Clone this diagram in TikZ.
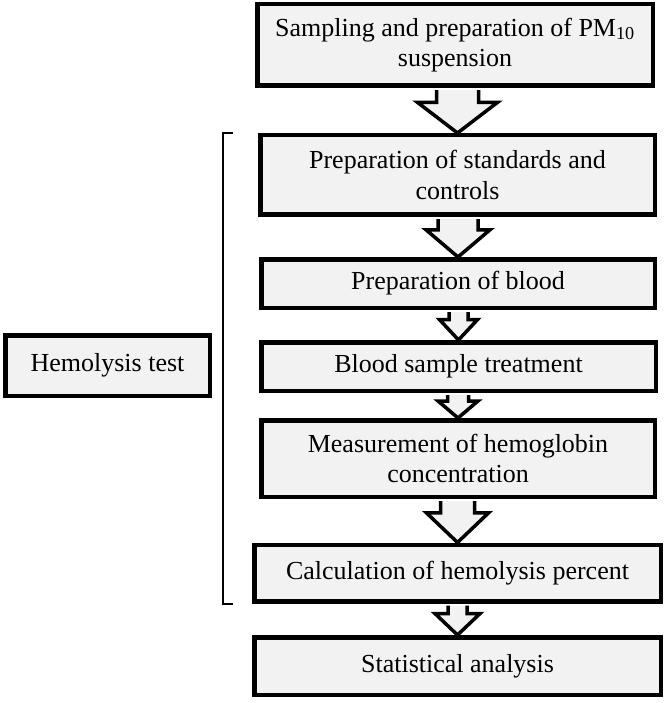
\documentclass[tikz,border=0pt]{standalone}
\usepackage{fontspec}
\setmainfont{Liberation Serif}
\usetikzlibrary{calc}
\definecolor{boxgray}{HTML}{F2F2F2}

% block arrow from the bottom of #1 to the top of #2, half shaft #3, half head #4
\newcommand{\flowarrow}[4]{%
  \draw[blockarrow] let \p1=(#1.south), \p2=(#2.north), \n1={0.32*(\y1-\y2)} in
    (\x2-#3pt,\y1-2.2pt) -- (\x2-#3pt,\y1-\n1*1pt) -- (\x2-#4pt,\y1-\n1*1pt) -- (\x2,\y2)
    -- (\x2+#4pt,\y1-\n1*1pt) -- (\x2+#3pt,\y1-\n1*1pt) -- (\x2+#3pt,\y1-2.2pt);}

\begin{document}
\begin{tikzpicture}[x=1pt,y=-1pt,
    stepbox/.style={draw=black,line width=4.5pt,fill=boxgray,align=center,inner sep=0pt,
      font=\fontsize{26}{30.5}\selectfont},
    blockarrow/.style={draw=black,line width=3.5pt,fill=boxgray,line join=miter}]
  \useasboundingbox (0,0) rectangle (666,703);
  \node[stepbox,minimum width=395.5pt,minimum height=81.5pt] (sampling) at (455,45)
    {Sampling and preparation of PM\textsubscript{10}\\suspension};
  \node[stepbox,minimum width=394.5pt,minimum height=79.5pt] (standards) at (457.5,175)
    {Preparation of standards and\\controls};
  \node[stepbox,minimum width=393.5pt,minimum height=48.5pt] (blood) at (458,283.5)
    {Preparation of blood};
  \node[stepbox,minimum width=394.5pt,minimum height=48.5pt] (treatment) at (458.5,366.5)
    {Blood sample treatment};
  \node[stepbox,minimum width=393.5pt,minimum height=76.5pt] (hemoglobin) at (458,458.5)
    {Measurement of hemoglobin\\concentration};
  \node[stepbox,minimum width=406.5pt,minimum height=56.5pt] (percent) at (457.5,573)
    {Calculation of hemolysis percent};
  \node[stepbox,minimum width=406.5pt,minimum height=57.5pt] (statistics) at (457.5,666)
    {Statistical analysis};
  \node[stepbox,minimum width=204.5pt,minimum height=60.5pt] (hemolysis) at (107.5,365.5)
    {Hemolysis test};

  \flowarrow{sampling}{standards}{21}{40}
  \flowarrow{standards}{blood}{20}{32}
  \flowarrow{blood}{treatment}{9.5}{19}
  \flowarrow{treatment}{hemoglobin}{10.5}{20}
  \flowarrow{hemoglobin}{percent}{17}{31}
  \flowarrow{percent}{statistics}{9.5}{22.5}

  % bracket round the hemolysis steps
  \coordinate (brtop) at (233,133);
  \coordinate (brbot) at (233,604);
  \draw[line width=2pt] (brtop) -- ++(-10,0) |- (brbot);
\end{tikzpicture}
\end{document}
